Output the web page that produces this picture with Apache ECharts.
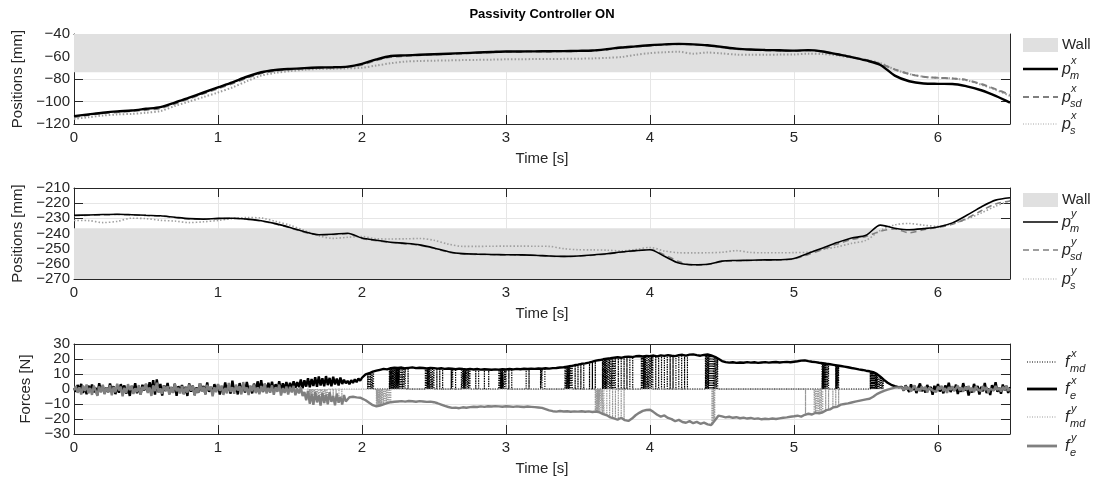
<!DOCTYPE html>
<html>
<head>
<meta charset="utf-8">
<script src="https://cdn.jsdelivr.net/npm/echarts@6/dist/echarts.min.js"></script>
<style>
  html, body { margin: 0; padding: 0; background: #fff; }
  #chart { width: 1100px; height: 481px; }
</style>
</head>
<body>
<div id="chart"></div>
<script>
// ---------------- data ----------------
// position samples every 0.1 s, t = 0 ... 6.5
const POS_DT = 0.1;

const pmX = [-113,-111.5,-110,-108.8,-108,-106.5,-105,-101,-96.5,-92,
  -87.5,-83,-78,-74,-72,-71,-70.3,-69.8,-69.5,-69,
  -66.5,-62.5,-59.5,-59,-58.5,-58,-57.5,-57,-56.5,-56,
  -55.5,-55.5,-55.4,-55.3,-55.2,-55,-54.7,-53.5,-52,-51,
  -50,-49.2,-48.8,-49.2,-50,-51.5,-53,-53.8,-54.2,-54.5,
  -54.8,-54.3,-55.5,-58,-60.5,-63.5,-67.5,-77,-82,-84,
  -84.3,-84.4,-86.5,-90,-95,-101];
const psdX = [-114,-112,-110.5,-109.5,-108.5,-107.5,-106,-102,-97.5,-93,
  -88.5,-84,-79,-75,-72.8,-71.5,-70.8,-70.2,-69.8,-69.4,
  -67.3,-63.3,-60.5,-59.5,-58.8,-58.2,-57.8,-57.3,-56.8,-56.3,
  -55.8,-55.7,-55.6,-55.5,-55.4,-55.2,-55,-53.8,-52.3,-51.3,
  -50.3,-49.5,-49,-49.4,-50.3,-51.8,-53.3,-54,-54.5,-54.8,
  -55,-54.6,-55.8,-58.2,-60.5,-63,-66.5,-71.5,-75.5,-78,
  -79,-79.5,-81,-84.5,-89,-94];
const psX = [-115.5,-114,-112.5,-111.5,-111,-110,-108.5,-104,-100,-96,
  -92,-87.5,-82,-77,-74.5,-73,-71.8,-71,-70.8,-70.5,
  -70,-68,-66,-64.5,-64,-63.7,-63.5,-63.2,-63,-62.8,
  -62.5,-62.4,-62.3,-62.2,-62.1,-62,-61.7,-61.2,-60.5,-58.5,
  -57,-56.2,-55.8,-57.5,-56.5,-57.3,-58.3,-58.5,-58.5,-58.3,
  -58.2,-57.5,-57.8,-59,-61,-63,-66,-71.5,-75.5,-78,
  -79,-79.5,-81.2,-85,-89.5,-95];

const pmY = [-228,-227.8,-227.5,-227.3,-227.6,-228,-228.3,-229.3,-230.2,-230.5,
  -230,-229.9,-230.5,-231.6,-233.5,-236,-238.8,-240.8,-240.5,-239.8,
  -243,-244.5,-245.8,-246.5,-247.5,-249.5,-252,-253.3,-253.6,-253.8,
  -254,-254.1,-254.3,-254.8,-255.1,-254.8,-254.2,-253.4,-252.2,-251.3,
  -250.7,-255,-259.5,-260.6,-260.3,-258.2,-257.8,-257.6,-257.4,-257.3,
  -256.5,-253,-249.5,-246,-243,-241.2,-234.5,-236.5,-237.5,-236.8,
  -235.7,-233,-228,-222.5,-218,-216.4];
const psdY = [-228.3,-228,-227.7,-227.5,-227.8,-228.2,-228.5,-229.5,-230.4,-230.6,
  -230.2,-230,-230.6,-231.8,-233.8,-236.3,-239.2,-241,-240.7,-240.2,
  -243.3,-244.8,-246,-246.8,-247.8,-249.8,-252.3,-253.5,-253.8,-254,
  -254.2,-254.3,-254.5,-255,-255.2,-255,-254.4,-253.6,-252.4,-251.5,
  -250.5,-254,-258.5,-261,-260.5,-258.5,-258,-257.8,-257.6,-257.5,
  -256.8,-253.8,-250.5,-247,-244,-242,-238.5,-237,-239.5,-237.5,
  -236,-234,-230,-225,-220.5,-218.5];
const psY = [-231.4,-231.5,-232.8,-232,-229.9,-230.2,-231.3,-231.8,-232.8,-232.3,
  -231.4,-230.2,-229.5,-229.8,-232,-234.5,-238,-241.5,-243.2,-242.5,
  -242,-243.5,-243.6,-243.5,-243.3,-244.5,-247,-248.5,-248.5,-248.4,
  -248.3,-248.3,-248.4,-248.5,-250,-250.7,-250.8,-251,-251.5,-250.5,
  -249.2,-251.5,-252.7,-252.8,-252.7,-252.4,-251.3,-252.5,-252.7,-252.7,
  -252.6,-252.3,-250.5,-248.8,-246.5,-244.5,-238,-234.3,-233.4,-234.5,
  -235.3,-233.5,-230.5,-226.5,-222,-218.4];

// forces: three recorded stretches
// A: t = 0 ... 1.9875 every 0.0125 s   B: t = 2.0 ... 5.725 every 0.025 s   C: t = 5.75 ... 6.5 every 0.0125 s
const SEG_A = { t0: 0, dt: 0.0125 };
const SEG_B = { t0: 2.0, dt: 0.025 };
const SEG_C = { t0: 5.75, dt: 0.0125 };

const feX_A = [0.6,-1.8,2.7,-0.9,3.4,-2.6,1.3,-3.5,2.2,-1.0,
  3.0,-2.2,0.8,-4.1,3.8,-1.5,2.0,-3.0,1.1,-2.1,
  3.6,-1.2,1.8,-3.4,1.5,-2.5,3.2,-0.6,2.4,-3.1,
  0.7,-4.6,2.1,-1.6,3.8,-2.8,1.2,-3.6,2.8,-0.9,
  3.1,-1.9,4.5,-1.3,5.9,-3.8,6.4,-2.2,3.4,-4.3,
  2.5,-1.4,4.0,-3.2,1.3,-2.4,3.5,-4.5,1.9,-1.3,
  2.6,-3.3,1.5,-4.6,3.7,-1.8,2.2,-3.9,1.0,-2.5,
  3.8,-1.4,2.0,-3.5,4.4,-1.9,1.2,-2.9,3.2,-1.0,
  2.8,-3.7,0.9,-2.1,4.3,-1.3,2.5,-3.1,5.6,-1.7,
  1.9,-3.6,3.9,-1.1,2.9,-2.4,4.7,-0.7,1.8,-2.9,
  3.6,-1.6,5.1,-1.0,5.8,-2.0,3.4,-1.4,4.1,-0.9,
  4.8,-1.3,3.2,-0.6,5.2,-1.5,3.8,0.1,4.6,-0.8,
  4.1,0.3,5.2,0.8,4.6,1.2,6.3,0.5,5.8,1.6,
  7.2,1.1,6.6,2.0,7.9,1.4,8.4,2.3,7.1,1.8,
  8.6,2.6,7.4,1.9,8.1,3.0,6.9,2.4,7.7,3.3,
  6.2,3.8,5.4,3.2,5.9,4.1,6.4,4.6,7.0,5.5];
const feX_B = [7.5,9.8,10.5,11.6,12.2,12.8,13.4,13.1,13.9,14.2,
  14.0,14.3,13.8,14.1,14.4,13.9,14.2,14.0,13.7,14.1,
  13.9,13.6,13.8,13.4,13.7,13.5,13.2,13.6,13.3,13.1,
  13.4,13.0,13.3,12.9,13.2,13.0,12.8,13.1,12.9,13.2,
  13.0,13.3,13.1,13.4,13.2,13.5,13.3,13.6,13.4,13.7,
  13.5,13.8,13.6,13.9,14.0,14.3,14.5,14.9,15.3,15.8,
  16.2,16.8,17.1,17.6,18.2,18.9,19.3,19.8,20.2,20.5,
  20.9,21.2,20.8,21.4,21.6,21.3,21.8,22.0,21.7,22.1,
  21.9,22.3,21.8,22.4,22.1,22.6,22.2,21.9,22.5,22.8,
  22.3,22.9,23.1,22.6,22.2,22.7,23.0,22.4,21.5,20.1,
  18.6,17.9,17.6,17.8,17.4,17.7,17.5,17.9,17.6,17.8,
  17.4,17.7,17.9,17.6,17.8,18.0,17.7,17.9,18.1,17.8,
  18.2,18.5,18.9,19.1,18.6,18.2,17.9,17.5,17.2,16.8,
  16.5,16.1,15.7,15.3,14.9,14.5,14.0,13.6,13.1,12.7,
  12.2,11.8,11.2,10.1,8.2,6.1,4.2,2.8,1.9,1.2];
const feX_C = [1.4,-1.1,2.4,0.2,-2.0,3.1,-0.6,1.8,-2.7,0.9,
  3.6,-1.4,0.5,-2.3,2.7,-0.3,1.4,-3.9,2.1,-0.8,
  3.3,-1.7,1.0,-2.9,2.3,-0.5,4.2,-2.1,1.2,-1.2,
  2.9,-3.3,0.8,-1.8,3.9,-0.9,1.5,-4.3,0.6,-2.4,
  3.4,-0.6,2.0,-3.6,1.4,-1.5,4.0,-2.7,0.3,-4.0,
  2.6,-1.0,4.5,-1.9,0.9,-3.1,3.0,-0.8,2.1,-2.6,1.2];

const feY_A = [-0.8,1.9,-2.5,1.1,-3.6,2.3,-1.3,3.0,-2.9,0.7,
  -3.9,2.2,-1.1,-4.5,1.7,-2.3,2.8,-3.5,1.0,-1.9,
  2.5,-4.2,1.4,-2.2,3.5,-1.0,1.6,-4.8,0.8,-2.7,
  3.2,-0.7,2.0,-3.3,0.5,-2.0,2.6,-3.9,1.4,-0.4,
  3.6,-2.6,1.0,-4.6,2.4,-1.4,4.2,-2.1,0.4,-3.2,
  2.3,-1.0,1.8,-3.8,1.2,-2.6,3.3,-1.5,0.8,-3.0,
  2.0,-3.5,1.0,-2.4,3.0,-1.1,2.1,-4.4,0.5,-2.3,
  3.9,-1.7,1.4,-3.3,2.7,-0.8,1.7,-4.9,1.1,-2.1,
  3.3,-1.2,2.3,-3.9,0.7,-2.9,4.0,-1.8,1.2,-3.2,
  2.9,-1.0,1.8,-3.6,4.6,-1.5,1.0,-4.0,2.3,-1.4,
  3.0,-2.7,1.1,-3.5,2.0,-1.7,3.6,-3.0,0.8,-2.4,
  2.4,-3.8,1.2,-1.8,2.9,-4.3,0.6,-2.6,1.7,-3.6,
  1.4,-2.3,2.1,-4.2,0.4,-2.9,1.2,-4.6,
  -2.0,-7.5,-1.2,-9.8,-3.4,-10.6,-1.8,-8.9,-4.2,-11.0,
  -2.6,-9.4,-3.8,-10.2,-2.1,-8.6,-4.6,-10.8,-3.0,-9.1,
  -5.2,-10.4,-4.0,-8.3,
  -7.0,-5.5,-6.6,-5.2,-6.3,-5.6,-6.1,-5.8];
const feY_B = [-6.0,-7.5,-9.2,-10.8,-11.6,-11.0,-10.2,-9.4,-8.8,-8.5,
  -8.3,-8.1,-8.4,-8.0,-8.2,-8.5,-8.1,-8.3,-8.6,-8.4,
  -8.8,-9.5,-10.4,-11.3,-12.0,-12.6,-12.4,-12.8,-12.2,-12.5,
  -12.1,-11.8,-12.0,-11.6,-11.9,-11.5,-11.7,-11.4,-11.6,-11.8,
  -11.5,-11.7,-11.9,-11.6,-11.8,-12.0,-11.7,-11.9,-12.1,-12.3,
  -12.6,-13.4,-14.2,-14.8,-15.1,-14.7,-15.0,-14.8,-15.2,-14.9,
  -15.1,-14.8,-15.2,-14.9,-15.3,-15.0,-15.6,-16.8,-17.5,-18.9,
  -19.6,-20.5,-19.2,-20.8,-21.3,-19.7,-17.5,-15.9,-14.6,-14.0,
  -13.8,-15.4,-17.2,-18.4,-17.6,-19.3,-20.1,-21.5,-20.6,-22.0,
  -22.5,-21.4,-22.8,-21.9,-23.2,-22.4,-23.6,-24.0,-21.0,-17.8,
  -18.3,-18.9,-18.5,-19.2,-18.8,-19.5,-19.1,-19.7,-19.3,-19.9,
  -19.6,-20.2,-19.8,-20.1,-19.7,-20.0,-19.6,-19.2,-18.9,-18.5,
  -18.2,-17.8,-18.4,-17.2,-16.5,-17.0,-15.8,-16.2,-15.5,-14.1,
  -13.6,-12.2,-11.8,-10.4,-10.0,-9.6,-9.0,-8.4,-7.9,-7.4,
  -6.9,-6.5,-5.2,-3.4,-2.3,-1.2,-0.4,0.3,0.9,1.1];
const feY_C = [1.1,-0.8,2.0,-0.2,1.2,-1.7,0.6,2.4,-1.1,0.5,
  -1.5,1.8,-0.5,1.4,-2.3,0.8,1.7,-0.9,0.3,-2.0,
  1.5,-0.3,2.1,-1.4,0.6,-2.6,1.2,-0.6,1.8,-1.2,
  0.5,2.3,-0.9,1.1,-1.8,1.4,-0.5,2.0,-1.5,0.8,
  -2.1,1.7,-0.3,0.9,-1.4,2.1,-0.8,1.2,-2.4,0.3,
  1.5,-1.1,2.0,-0.6,0.9,-1.7,1.4,-0.5,1.8,-1.2,0.5];

// instants where the desired master force switches on (f_md jumps to f_e)
const mdOnX = [2.04,2.05,2.06,2.07,2.08,
  2.19,2.195,2.20,2.205,2.21,2.215,2.22,2.225,2.23,2.235,2.24,2.245,2.25,2.255,2.26,2.27,2.28,2.29,2.30,2.32,
  2.44,2.45,2.455,2.46,2.465,2.47,2.48,2.49,2.50,2.52,2.54,2.56,
  2.62,2.63,2.65,
  2.69,2.70,2.705,2.71,2.715,2.72,2.73,2.74,2.75,
  2.79,2.81,2.85,2.88,
  2.95,2.96,2.965,2.97,2.975,2.98,2.99,3.00,3.02,3.04,
  3.14,3.16,3.24,3.25,3.27,
  3.41,3.42,3.425,3.43,3.435,3.44,3.45,3.46,3.48,3.50,3.52,3.54,
  3.58,3.60,3.62,
  3.67,3.675,3.68,3.685,3.69,3.695,3.70,3.71,3.72,3.73,3.74,3.75,3.76,3.78,3.80,3.82,3.84,3.86,3.88,
  3.94,3.95,3.955,3.96,3.965,3.97,3.98,3.99,4.00,4.01,4.02,4.04,4.06,4.08,4.10,4.12,4.14,4.16,4.18,4.20,4.22,4.24,4.26,
  4.385,4.39,4.395,4.40,4.405,4.41,4.415,4.42,4.425,4.43,4.435,4.44,4.45,4.46,4.47,
  5.195,5.20,5.205,5.21,5.215,5.22,5.23,5.24,5.29,5.295,5.30,5.305,5.31,
  5.53,5.535,5.54,5.545,5.55,5.555,5.56,5.565,5.57,5.575,5.58,5.59,5.60,5.61,5.62];
const mdOnY = [1.62,1.625,1.63,1.635,1.64,1.645,1.65,1.655,1.66,1.67,1.68,1.69,1.70,1.71,1.72,1.73,1.74,1.75,1.76,1.78,1.80,1.82,1.84,1.86,
  2.10,2.105,2.11,2.115,2.12,2.125,2.13,2.135,2.14,2.15,2.16,2.17,2.18,2.19,2.20,
  3.62,3.625,3.63,3.635,3.64,3.645,3.65,3.66,3.67,3.68,3.70,3.72,3.74,3.76,3.78,3.80,3.82,
  4.43,4.435,4.44,4.445,4.45,
  5.08,5.14,5.15,5.16,5.17,5.18,5.19,5.20,5.22,5.24,5.27,5.29,5.31];

// wall regions [lower, upper] in mm
const wallX = [-74, -40];
const wallY = [-270, -236.5];

const timeTicks = [0, 1, 2, 3, 4, 5, 6];

// ---------------- helpers ----------------
const FONT = '"Liberation Sans", Arial, Helvetica, sans-serif';
const withTime = (vals, t0, dt) => vals.map((v, i) => [+(t0 + i * dt).toFixed(4), v]);
const minus = v => String(v).replace('-', '\u2212');

const feXData = [].concat(
  withTime(feX_A, SEG_A.t0, SEG_A.dt), withTime(feX_B, SEG_B.t0, SEG_B.dt), withTime(feX_C, SEG_C.t0, SEG_C.dt));
const feYData = [].concat(
  withTime(feY_A, SEG_A.t0, SEG_A.dt), withTime(feY_B, SEG_B.t0, SEG_B.dt), withTime(feY_C, SEG_C.t0, SEG_C.dt));

// nearest recorded sample of a force signal
function sampleAt(data, t) {
  let best = data[0];
  for (const p of data) if (Math.abs(p[0] - t) < Math.abs(best[0] - t)) best = p;
  return best[1];
}
// f_md toggles between zero and the environment force at each switching instant
function switched(times, fe) {
  const d = [];
  times.forEach(t => {
    const v = sampleAt(fe, t);
    d.push([t, 0], [t, v], [t, 0]);
  });
  return d;
}

const gridBoxes = [
  { left: 74, top: 34, width: 936, height: 90 },
  { left: 74, top: 188, width: 936, height: 91 },
  { left: 74, top: 344, width: 936, height: 90 }
];
const yRanges = [
  { min: -120, max: -40, interval: 20, name: 'Positions [mm]', gap: 46 },
  { min: -270, max: -210, interval: 10, name: 'Positions [mm]', gap: 46 },
  { min: -30, max: 30, interval: 10, name: 'Forces [N]', gap: 38 }
];

const xAxes = [], yAxes = [];
gridBoxes.forEach((g, i) => {
  const common = {
    gridIndex: i, type: 'value', min: 0, max: 6.5, interval: 1,
    axisLine: { show: true, onZero: false, lineStyle: { color: '#262626', width: 1 } },
    axisTick: { show: true, inside: true, length: 9, lineStyle: { color: '#262626' } }
  };
  xAxes.push(Object.assign({}, common, {
    position: 'bottom',
    name: 'Time [s]', nameLocation: 'middle', nameGap: 27,
    nameTextStyle: { fontFamily: FONT, fontSize: 15, color: '#262626' },
    axisLabel: { show: true, showMaxLabel: false, margin: 6, fontFamily: FONT, fontSize: 15, color: '#262626',
      formatter: v => (timeTicks.includes(v) ? String(v) : '') },
    splitLine: { show: true, lineStyle: { color: '#e6e6e6', width: 1 } }
  }));
  xAxes.push(Object.assign({}, common, {
    position: 'top', axisLabel: { show: false }, splitLine: { show: false }
  }));
  const r = yRanges[i];
  const yc = {
    gridIndex: i, type: 'value', min: r.min, max: r.max, interval: r.interval,
    axisLine: { show: true, onZero: false, lineStyle: { color: '#262626', width: 1 } },
    axisTick: { show: true, inside: true, length: 9, lineStyle: { color: '#262626' } }
  };
  yAxes.push(Object.assign({}, yc, {
    position: 'left',
    name: r.name, nameLocation: 'middle', nameGap: r.gap, nameRotate: 90,
    nameTextStyle: { fontFamily: FONT, fontSize: 15, color: '#262626' },
    axisLabel: { show: true, margin: 4, fontFamily: FONT, fontSize: 15, color: '#262626', formatter: minus },
    splitLine: { show: true, lineStyle: { color: '#e6e6e6', width: 1 } }
  }));
  yAxes.push(Object.assign({}, yc, {
    position: 'right', axisLabel: { show: false }, splitLine: { show: false }
  }));
});

function wallSeries(i, range) {
  return {
    type: 'line', name: 'Wall', xAxisIndex: 2 * i, yAxisIndex: 2 * i, data: [], z: 1,
    markArea: { silent: true, itemStyle: { color: '#e0e0e0' },
      data: [[{ yAxis: range[0] }, { yAxis: range[1] }]] }
  };
}
function lineSeries(i, name, data, color, width, dash, z, smooth) {
  return {
    type: 'line', name, xAxisIndex: 2 * i, yAxisIndex: 2 * i, data, z,
    showSymbol: false, symbol: 'none', smooth: smooth || false, silent: true,
    lineStyle: { color, width, type: dash || 'solid' }
  };
}

const series = [
  wallSeries(0, wallX),
  lineSeries(0, 'p_s^x', withTime(psX, 0, POS_DT), '#9c9c9c', 2, [1.5, 2], 3, 0.3),
  lineSeries(0, 'p_sd^x', withTime(psdX, 0, POS_DT), '#7f7f7f', 2, [6, 4], 4, 0.3),
  lineSeries(0, 'p_m^x', withTime(pmX, 0, POS_DT), '#000000', 2.4, null, 5, 0.3),

  wallSeries(1, wallY),
  lineSeries(1, 'p_s^y', withTime(psY, 0, POS_DT), '#a0a0a0', 1.6, [1.5, 2], 3, 0.3),
  lineSeries(1, 'p_sd^y', withTime(psdY, 0, POS_DT), '#7f7f7f', 1.5, [6, 4], 4, 0.3),
  lineSeries(1, 'p_m^y', withTime(pmY, 0, POS_DT), '#000000', 1.6, null, 5, 0.3),

  lineSeries(2, 'f_md^x', switched(mdOnX, feXData), '#000000', 1.2, [1.2, 1.2], 3),
  lineSeries(2, 'f_e^x', feXData, '#000000', 2.4, null, 4),
  lineSeries(2, 'f_md^y', switched(mdOnY, feYData), '#9a9a9a', 1.2, [1.2, 1.2], 5),
  lineSeries(2, 'f_e^y', feYData, '#808080', 2.4, null, 6)
];

// ---------------- legends ----------------
const LX0 = 1023, LX1 = 1058, TX = 1062;
const graphics = [];
function legendText(y, base, sup, sub, tx) {
  const x = tx || TX;
  graphics.push({ type: 'text', x, y: y + 1, style: { text: base, font: 'italic 16px ' + FONT, fill: '#262626', verticalAlign: 'middle' } });
  const bw = base === 'p' ? 9 : 6;
  graphics.push({ type: 'text', x: x + bw, y: y - 8, style: { text: sup, font: 'italic 11px ' + FONT, fill: '#262626', verticalAlign: 'middle' } });
  graphics.push({ type: 'text', x: x + bw - 1, y: y + 7, style: { text: sub, font: 'italic 11px ' + FONT, fill: '#262626', verticalAlign: 'middle' } });
}
function legendWall(y) {
  graphics.push({ type: 'rect', shape: { x: LX0, y: y - 7, width: LX1 - LX0, height: 14 }, style: { fill: '#e0e0e0' } });
  graphics.push({ type: 'text', x: TX, y: y, style: { text: 'Wall', font: '15px ' + FONT, fill: '#262626', verticalAlign: 'middle' } });
}
function legendLine(y, color, width, dash, x0, x1) {
  graphics.push({ type: 'line', shape: { x1: x0 || LX0, y1: y, x2: x1 || LX1, y2: y },
    style: { stroke: color, lineWidth: width, lineDash: dash || null } });
}

legendWall(45);
legendLine(69, '#000', 2.4); legendText(69, 'p', 'x', 'm');
legendLine(97, '#7f7f7f', 2, [6, 4]); legendText(97, 'p', 'x', 'sd');
legendLine(124, '#a6a6a6', 1, [1, 1.5]); legendText(124, 'p', 'x', 's');

legendWall(200);
legendLine(222, '#000', 1.6); legendText(222, 'p', 'y', 'm');
legendLine(250, '#7f7f7f', 1.5, [6, 4]); legendText(250, 'p', 'y', 'sd');
legendLine(279, '#a6a6a6', 1, [1, 1.5]); legendText(279, 'p', 'y', 's');

legendLine(362, '#000', 1, [1, 1.5], 1027, 1057); legendText(362, 'f', 'x', 'md', 1065);
legendLine(389, '#000', 2.8, null, 1027, 1057); legendText(389, 'f', 'x', 'e', 1065);
legendLine(417, '#9a9a9a', 1, [1, 1.5], 1027, 1057); legendText(417, 'f', 'y', 'md', 1065);
legendLine(446, '#808080', 2.8, null, 1027, 1057); legendText(446, 'f', 'y', 'e', 1065);

// ---------------- chart ----------------
const chart = echarts.init(document.getElementById('chart'), null, { renderer: 'canvas' });
chart.setOption({
  animation: false,
  backgroundColor: '#ffffff',
  title: {
    text: 'Passivity Controller ON', left: 537, top: 3, textAlign: 'center',
    textStyle: { fontFamily: FONT, fontSize: 13, fontWeight: 'bold', color: '#000' }
  },
  grid: gridBoxes,
  xAxis: xAxes,
  yAxis: yAxes,
  series,
  graphic: graphics
});
</script>
</body>
</html>
